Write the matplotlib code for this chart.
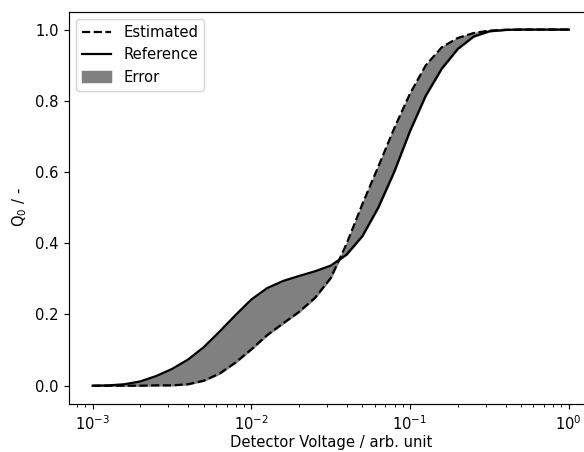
import numpy as np
import matplotlib
matplotlib.use("Agg")
import matplotlib.pyplot as plt

# log10 of detector voltage
log_voltage = [-3.0, -2.9, -2.8, -2.7, -2.6, -2.5, -2.4, -2.3, -2.2, -2.1,
               -2.0, -1.9, -1.8, -1.7, -1.6, -1.5, -1.4, -1.3, -1.2, -1.1,
               -1.0, -0.9, -0.8, -0.7, -0.6, -0.5, -0.4, -0.3, -0.2, -0.1, 0.0]
reference = [0.0, 0.001, 0.004, 0.012, 0.027, 0.047, 0.073, 0.108, 0.152, 0.198,
             0.242, 0.274, 0.294, 0.308, 0.321, 0.337, 0.368, 0.420, 0.500, 0.600,
             0.715, 0.815, 0.890, 0.945, 0.980, 0.995, 0.999, 1.0, 1.0, 1.0, 1.0]
estimated = [0.0, 0.0, 0.0, 0.0, 0.001, 0.001, 0.004, 0.014, 0.034, 0.065,
             0.102, 0.142, 0.175, 0.207, 0.246, 0.302, 0.398, 0.510, 0.615, 0.722,
             0.820, 0.900, 0.950, 0.976, 0.990, 0.997, 0.999, 1.0, 1.0, 1.0, 1.0]

x = 10 ** np.array(log_voltage)

dpi = 106
fig = plt.figure(figsize=(584 / dpi, 452 / dpi), dpi=dpi)
ax = fig.add_axes([68.8 / 584, (452 - 403.5) / 452, 523.7 / 584, 391.8 / 452])

ax.plot(x, estimated, 'k--', label='Estimated')
ax.plot(x, reference, 'k-', label='Reference')
ax.fill_between(x, estimated, reference, color='gray', label='Error')
ax.set_xscale('log')
ax.set_xlabel('Detector Voltage / arb. unit', labelpad=2)
ax.set_ylabel(r'Q$_0$ / -')
ax.legend(loc='upper left')

fig.savefig('out.png', dpi=dpi)
